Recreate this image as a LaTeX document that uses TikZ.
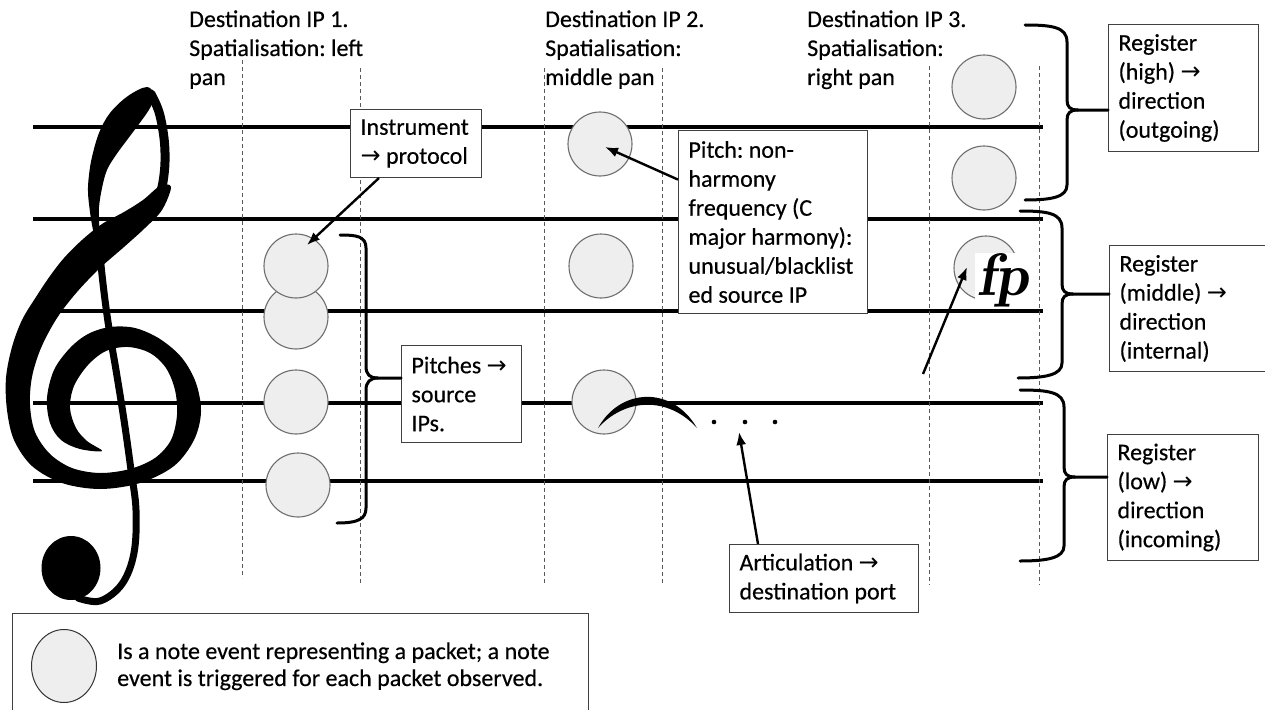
\documentclass[tikz,border=0pt]{standalone}
\usepackage{fontspec}
\setmainfont{Carlito}[FakeBold=0.4]
\newfontfamily\symfnt{DejaVu Sans}
\usetikzlibrary{calc,arrows.meta,shapes.geometric}
\definecolor{notefill}{HTML}{EEEEEE}
\definecolor{notedraw}{HTML}{6E6E6E}
\definecolor{boxdraw}{HTML}{404040}
\newcommand\rarr{{\symfnt →}}
\frenchspacing
\tikzset{
  staff/.style={line width=4pt, black},
  guide/.style={line width=0.9pt, black!65, dash pattern=on 4pt off 3pt},
  note/.style={circle, minimum size=64pt, inner sep=0pt, fill=notefill, draw=notedraw, line width=1.1pt},
  legnote/.style={ellipse, minimum width=65pt, minimum height=73pt, inner sep=0pt, fill=notefill, draw=black!80, line width=1pt},
  hdr/.style={font=\fontsize{24}{29}\selectfont\frenchspacing, inner sep=0pt, align=flush left, text width=#1},
  lbox/.style n args={3}{draw=boxdraw, line width=1pt, fill=white, rectangle, minimum width=#1, minimum height=#2, inner xsep=10pt, inner ysep=0pt, text width=#3, align=flush left, font=\fontsize{24}{29}\selectfont\frenchspacing, anchor=north west},
  arr/.style={-{Latex[length=13pt,width=10pt]}, line width=2.4pt},
  bracepath/.style={line width=3pt, line cap=round, line join=round},
  dotmark/.style={circle, fill=black, inner sep=0pt, minimum size=4.6pt}
}
\begin{document}
\begin{tikzpicture}[x=1pt,y=-1pt]
\useasboundingbox (0,0) rectangle (1265,709);
\fill[white] (0,0) rectangle (1265,709);
\clip (0,0) rectangle (1265,709);

% staff lines
\foreach \yy in {127,219,311,403,481}{\draw[staff] (33,\yy) -- (1043,\yy);}

% dashed guides
\draw[guide] (242,60) -- (242,578);
\draw[guide] (360,68) -- (360,584);
\draw[guide] (544,68) -- (544,585);
\draw[guide] (662,68) -- (662,585);
\draw[guide] (929,66) -- (929,585);
\draw[guide] (1039,66) -- (1039,585);

% treble clef
\fill[black] plot[smooth cycle, tension=0.6] coordinates {(147,87) (128,96) (110,113) (99,133) (92,157) (89,175) (88,192) (90,212) (93,230) (98,250) (102,250) (100,237) (99,220) (99,207) (102,188) (107,170) (116,155) (127,140) (139,124) (150,108) (154,96)};
\draw[line width=9pt, line cap=round] plot[smooth, tension=0.6] coordinates {(151,94) (159,112) (164,138) (165,162) (163,182) (160,194)};
\fill[black] plot[smooth cycle, tension=0.55] coordinates {(160,186) (143,200) (124,212) (102,224) (82,240) (64,258) (50,276) (36,297) (22,320) (12,347) (6,378) (7,410) (14,440) (32,466) (62,483) (100,489) (140,483) (174,466) (194,440) (201,412) (196,383) (182,358) (160,339) (135,328) (110,327) (88,334) (70,348) (54,370) (47,398) (50,423) (61,440) (80,449) (102,451) (87,441) (76,428) (70,408) (74,386) (88,365) (106,351) (128,347) (150,353) (166,368) (175,390) (177,415) (171,440) (155,458) (130,469) (100,473) (72,468) (50,454) (35,432) (30,405) (32,377) (41,348) (57,318) (77,292) (100,268) (124,247) (145,228) (162,210) (171,187)};
\draw[line width=7pt, line cap=round] plot[smooth, tension=0.6] coordinates {(99,240) (101,265) (105,300) (110,335) (116,370) (124,420) (131,470) (136,510) (134,553) (122,584) (100,601) (78,598)};
\fill[black] (71,568) ellipse (29.5 and 32);

% notes
\node[note] (c1b) at (296,317) {};
\node[note] (c1a) at (296,266) {};
\node[note] (c1c) at (296,402) {};
\node[note] (c1d) at (298,485) {};
\node[note] (c2a) at (600,144) {};
\node[note] (c2b) at (601,266) {};
\node[note] (c2c) at (604,402) {};
\node[note] (c3a) at (984,87) {};
\node[note] (c3b) at (984,178) {};
\node[note] (c3c) at (986,268) {};

% slur and staccato dots
\fill[black] (598,428) .. controls (620,388) and (672,385) .. (697,428) .. controls (668,396) and (625,398) .. (598,428) -- cycle;
\node[dotmark] (dt1) at (714,422) {};
\node[dotmark] (dt2) at (745,422) {};
\node[dotmark] (dt3) at (775,422) {};

% fp dynamic
\node[fill=white, inner sep=0pt, minimum width=56pt, minimum height=48pt, anchor=north west] (fpMark) at (975,253) {\fontfamily{lmr}\fontsize{60}{60}\selectfont\bfseries\itshape fp};

% headers
\node[hdr=230pt, anchor=base west] (h1) at (189,27) {Destination IP 1.\\Spatialisation: left\\pan};
\node[hdr=230pt, anchor=base west] (h2) at (545,27) {Destination IP 2.\\Spatialisation:\\middle pan};
\node[hdr=230pt, anchor=base west] (h3) at (807,27) {Destination IP 3.\\Spatialisation:\\right pan};

% boxes
\node[lbox={131pt}{68pt}{111pt}] (instBox) at (350,109) {Instrument\\\rarr{} protocol};
\node[lbox={189pt}{183pt}{169pt}] (pitchBox) at (678,130) {Pitch: non-\\harmony\\frequency (C\\major harmony):\\unusual/blacklist\\ed source IP};
\node[lbox={120pt}{97pt}{100pt}] (pitchesBox) at (401,345) {Pitches \rarr\\source\\IPs.};
\node[lbox={189pt}{68pt}{169pt}] (artBox) at (729,544) {Articulation \rarr\\destination port};
\node[lbox={150pt}{127pt}{130pt}] (reg1) at (1108,24) {Register\\(high) \rarr\\direction\\(outgoing)};
\node[lbox={157pt}{126pt}{137pt}] (reg2) at (1109,245) {Register\\(middle) \rarr\\direction\\(internal)};
\node[lbox={151pt}{126pt}{131pt}] (reg3) at (1107,434) {Register\\(low) \rarr\\direction\\(incoming)};

% pitches bracket
\coordinate (bp) at (378,378);
\draw[bracepath] (340,235) .. controls (356,235) and (366,236) .. (366,248) -- (366,366) .. controls (366,375) and (370,378) .. (bp) -- (bp -| pitchesBox.west);
\draw[bracepath] (bp) .. controls (370,378) and (366,382) .. (366,390) -- (366,508) .. controls (366,519) and (358,523) .. (337,523);

% register braces
\coordinate (t1) at (1078,110);
\draw[bracepath] (1025,25) .. controls (1052,25) and (1067,27) .. (1067,42) -- (1067,100) .. controls (1067,107) and (1070,110) .. (t1) -- (t1 -| reg1.west);
\draw[bracepath] (t1) .. controls (1070,110) and (1067,113) .. (1067,120) -- (1067,185) .. controls (1067,197) and (1052,200) .. (1025,200);
\coordinate (t2) at (1073,294);
\draw[bracepath] (1020,211) .. controls (1047,211) and (1062,213) .. (1062,228) -- (1062,284) .. controls (1062,291) and (1065,294) .. (t2) -- (t2 -| reg2.west);
\draw[bracepath] (t2) .. controls (1065,294) and (1062,297) .. (1062,304) -- (1062,363) .. controls (1062,375) and (1045,378) .. (1018,378);
\coordinate (t3) at (1075,477);
\draw[bracepath] (1020,390) .. controls (1048,390) and (1064,392) .. (1064,407) -- (1064,467) .. controls (1064,474) and (1067,477) .. (t3) -- (t3 -| reg3.west);
\draw[bracepath] (t3) .. controls (1067,477) and (1064,480) .. (1064,487) -- (1064,546) .. controls (1064,558) and (1047,561) .. (1020,561);

% arrows
\draw[arr] (instBox) -- ($(c1a)+(11,-21)$);
\draw[arr] (pitchBox) -- ($(c2a)+(5,3)$);
\draw[arr] ($(artBox.north west)+(29,0)$) -- ($(dt2)+(-6,10)$);
\coordinate (fpTail) at (923,374);
\draw[arr] (fpTail) -- ($(c3c)+(-19,-1)$);

% legend
\node[draw=boxdraw, line width=1pt, fill=white, anchor=north west, minimum width=576pt, minimum height=104pt, inner sep=0pt] (legBox) at (12,613) {};
\node[legnote] (legNote) at (64,666) {};
\node[hdr=480pt, font=\fontsize{24}{27}\selectfont\frenchspacing, anchor=base west] (legText) at (117,659) {Is a note event representing a packet; a note\\event is triggered for each packet observed.};
\end{tikzpicture}
\end{document}
